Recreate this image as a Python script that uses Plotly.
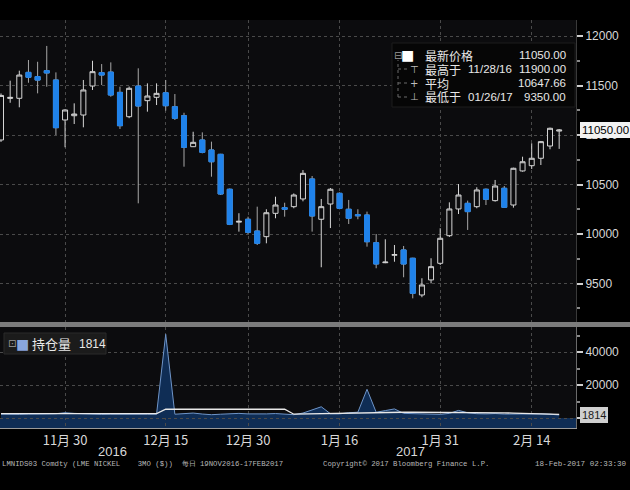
import plotly.graph_objects as go

# ---------------- data ----------------
dates = [
    "2016-11-21", "2016-11-22", "2016-11-23", "2016-11-24", "2016-11-25", "2016-11-28", "2016-11-29", "2016-11-30",
    "2016-12-01", "2016-12-02", "2016-12-05", "2016-12-06", "2016-12-07", "2016-12-08", "2016-12-09", "2016-12-12",
    "2016-12-13", "2016-12-14", "2016-12-15", "2016-12-16", "2016-12-19", "2016-12-20", "2016-12-21", "2016-12-22",
    "2016-12-23", "2016-12-28", "2016-12-29", "2016-12-30",
    "2017-01-03", "2017-01-04", "2017-01-05", "2017-01-06", "2017-01-09", "2017-01-10", "2017-01-11", "2017-01-12",
    "2017-01-13", "2017-01-16", "2017-01-17", "2017-01-18", "2017-01-19", "2017-01-20", "2017-01-23", "2017-01-24",
    "2017-01-25", "2017-01-26", "2017-01-27", "2017-01-30", "2017-01-31",
    "2017-02-01", "2017-02-02", "2017-02-03", "2017-02-06", "2017-02-07", "2017-02-08", "2017-02-09", "2017-02-10",
    "2017-02-13", "2017-02-14", "2017-02-15", "2017-02-16", "2017-02-17",
]
opens = [10950, 11370, 11371, 11633, 11590, 11650, 11556, 11152, 11195, 11202, 11495, 11630, 11636, 11431, 11185, 11495,
         11347, 11381, 11427, 11286, 11195, 10882, 10950, 10849, 10805, 10452, 10120, 10149,
         10030, 9973, 10209, 10266, 10276, 10354, 10556, 10149, 10303, 10411, 10250, 10195, 10192, 9912, 9710, 9785,
         9839, 9755, 9384, 9536, 9704,
         9983, 10253, 10310, 10276, 10452, 10337, 10462, 10293, 10637, 10690, 10765, 10889, 11040]
highs = [11420, 11549, 11650, 11758, 11740, 11900, 11633, 11260, 11320, 11556, 11750, 11717, 11734, 11488, 11490, 11674,
         11522, 11522, 11556, 11414, 11225, 11033, 11027, 10933, 10810, 10460, 10210, 10175,
         10276, 10250, 10377, 10316, 10410, 10646, 10586, 10354, 10465, 10420, 10344, 10250, 10226, 10000, 9947, 9889,
         9879, 9760, 9553, 9755, 10058,
         10320, 10505, 10337, 10472, 10460, 10546, 10485, 10670, 10781, 10916, 10940, 11075, 11060]
lows = [10930, 11326, 11280, 11528, 11421, 11488, 11000, 10876, 11111, 11078, 11455, 11505, 11387, 11061, 11170, 10310,
        11236, 11303, 11246, 11152, 10680, 10880, 10815, 10579, 10394, 10090, 10024, 10000,
        9889, 9906, 10159, 10175, 10260, 10330, 10024, 9664, 10060, 10250, 10101, 10149, 9872, 9654, 9705, 9720,
        9563, 9350, 9361, 9502, 9687,
        9970, 10202, 10041, 10260, 10293, 10327, 10265, 10266, 10630, 10657, 10697, 10856, 10860]
closes = [11400, 11380, 11606, 11583, 11555, 11627, 11074, 11253, 11212, 11455, 11640, 11606, 11404, 11094, 11472, 11293,
          11394, 11421, 11296, 11169, 10876, 10926, 10825, 10730, 10404, 10098, 10128, 10017,
          9906, 10215, 10293, 10250, 10394, 10613, 10182, 10276, 10452, 10259, 10159, 10185, 9922, 9697, 9716, 9792,
          9697, 9401, 9485, 9670, 9957,
          10253, 10394, 10226, 10445, 10351, 10485, 10270, 10664, 10730, 10765, 10933, 11068, 11050]

open_interest = [2300, 2100, 2200, 2400, 2300, 2500, 2600, 3200, 2800, 2500, 2300, 2200, 2300, 2400, 2300, 2200,
                 2300, 2300, 50700, 2300, 2800, 3000, 2400, 2000, 2300, 2600, 2800, 2500,
                 2300, 2500, 2700, 2400, 2000, 3000, 4800, 6800, 2600, 2500, 3200, 3500, 17400, 3500, 4500, 5500,
                 2800, 2600, 2300, 2000, 2200,
                 2800, 4600, 3200, 2600, 2500, 2700, 2400, 2500, 2600, 2800, 2500, 2300, 1814]
oi_line = [2700, 2700, 2700, 2700, 2700, 2700, 2700, 2700, 2700, 2700, 2700, 2700, 2700, 2700, 2700, 2700,
           2700, 2700, 5300, 5300, 5300, 5300, 5300, 5300, 5300, 5300, 5300, 5300,
           5300, 5300, 5300, 5300, 2300, 2400, 2500, 2700, 2800, 2900, 3100, 3200, 3500, 3500, 3500, 3500,
           3500, 3500, 3500, 3500, 3500,
           3500, 3500, 3500, 3500, 3300, 3200, 3100, 3000, 2900, 2800, 2500, 2300, 2200]

tick_dates = ["2016-11-30", "2016-12-15", "2016-12-30", "2017-01-16", "2017-01-31", "2017-02-14"]
tick_labels = ["11月 30", "12月 15", "12月 30", "1月 16", "1月 31", "2月 14"]
year_labels = ["2016", "2017"]
oi_ticks = [0, 20000, 40000]
oi_tick_text = ["", "20000", "40000"]

legend_labels = ["最新价格", "最高于", "平均", "最低于"]
legend_dates = ["", "11/28/16", "", "01/26/17"]
legend_values = ["11050.00", "11900.00", "10647.66", "9350.00"]
last_price = 11050
oi_last = 1814

# ---------------- geometry helpers (pixel -> paper) ----------------
W, H = 630, 490
ML, MR, MT, MB = 0, 54, 20, 62
PW = W - ML - MR
PH = H - MT - MB


def px(x):
    return (x - ML) / PW


def py(y):
    return (H - MB - y) / PH


CJK = "Noto Sans CJK SC, Noto Sans, sans-serif"
SANS = "Liberation Sans, Arial, sans-serif"
MONO = "Liberation Mono, DejaVu Sans Mono, monospace"
TXT = "#d8d8d8"
GRID = "#4a4a4a"
BLUE = "#1f82ea"

dec_idx = [i for i in range(len(dates)) if closes[i] < opens[i]]

fig = go.Figure()
fig.add_trace(go.Candlestick(
    x=dates, open=opens, high=highs, low=lows, close=closes,
    increasing=dict(line=dict(color="#d6d6d6", width=1), fillcolor="#0c0c0e"),
    decreasing=dict(line=dict(color="#a8a8a8", width=1), fillcolor=BLUE),
    whiskerwidth=0, xaxis="x", yaxis="y", hoverinfo="skip",
))
fig.add_trace(go.Candlestick(
    x=[dates[i] for i in dec_idx],
    open=[opens[i] for i in dec_idx],
    high=[opens[i] for i in dec_idx],
    low=[closes[i] for i in dec_idx],
    close=[closes[i] for i in dec_idx],
    increasing=dict(line=dict(color=BLUE, width=1), fillcolor=BLUE),
    decreasing=dict(line=dict(color=BLUE, width=1), fillcolor=BLUE),
    whiskerwidth=0, xaxis="x", yaxis="y", hoverinfo="skip",
))

fig.add_trace(go.Scatter(
    x=dates, y=open_interest, mode="lines", fill="tozeroy",
    line=dict(color="#6f95c8", width=1), fillcolor="#0f2d55",
    xaxis="x2", yaxis="y2", hoverinfo="skip",
))
fig.add_trace(go.Scatter(
    x=dates, y=oi_line, mode="lines",
    line=dict(color="#e8e8e8", width=1.3),
    xaxis="x2", yaxis="y2", hoverinfo="skip",
))

xr = [-0.11, 62.84]
main_dom = [py(322), 1.0]
low_dom = [0.0, py(327)]

common_x = dict(type="category", categoryorder="array", categoryarray=dates, range=xr,
                tickvals=tick_dates, showgrid=True, gridcolor=GRID, griddash="dot",
                zeroline=False, fixedrange=True)

fig.update_layout(
    width=W, height=H,
    margin=dict(l=ML, r=MR, t=MT, b=MB),
    paper_bgcolor="#000000", plot_bgcolor="#0c0c0e",
    showlegend=False,
    boxgap=0.22,
    xaxis=dict(**common_x, anchor="y", domain=[0, 1], showticklabels=False, ticks="",
               rangeslider=dict(visible=False)),
    xaxis2=dict(**common_x, anchor="y2", domain=[0, 1], ticktext=tick_labels, ticks="",
                tickfont=dict(family=CJK, size=13, color=TXT), showline=True, linecolor="#9a9a9a",
                linewidth=1),
    yaxis=dict(domain=main_dom, side="right", range=[9111, 12162], anchor="x",
               tickmode="linear", tick0=0, dtick=500, tickformat="d",
               showgrid=True, gridcolor=GRID, griddash="dot", zeroline=False,
               tickfont=dict(family=SANS, size=12, color=TXT),
               ticks="outside", ticklen=6, tickwidth=2, tickcolor="#cfcfcf",
               minor=dict(ticks="outside", ticklen=3, tickcolor="#8a8a8a", dtick=250, tick0=0, showgrid=False),
               showline=True, linecolor="#3a3a3a", fixedrange=True),
    yaxis2=dict(domain=low_dom, side="right", range=[-6060, 55150], anchor="x2",
                tickmode="array", tickvals=oi_ticks, ticktext=oi_tick_text,
                showgrid=True, gridcolor=GRID, griddash="dot", zeroline=False,
                tickfont=dict(family=SANS, size=12, color=TXT),
                ticks="outside", ticklen=6, tickwidth=2, tickcolor="#cfcfcf",
                minor=dict(ticks="outside", ticklen=3, tickcolor="#8a8a8a", dtick=10000, tick0=0, showgrid=False),
                showline=True, linecolor="#6a6a6a", fixedrange=True),
)

shapes = []
shapes.append(dict(type="rect", xref="x2 domain", yref="y2", x0=0, x1=1, y0=-6060, y1=0,
                   fillcolor="#0f2d55", line=dict(width=0), layer="below"))
shapes.append(dict(type="rect", xref="paper", yref="paper", x0=0, x1=W / PW, y0=py(327), y1=py(322),
                   fillcolor="#7c7c7c", line=dict(width=0)))
shapes.append(dict(type="rect", xref="paper", yref="paper", x0=px(392), x1=px(575), y0=py(107), y1=py(43),
                   fillcolor="#060606", line=dict(color="#1c1c1c", width=1)))
shapes.append(dict(type="line", xref="paper", yref="paper", x0=px(398), x1=px(398), y0=py(97), y1=py(60),
                   line=dict(color="#6a6a6a", width=1, dash="dot")))
for yy in (69, 83, 97):
    shapes.append(dict(type="line", xref="paper", yref="paper", x0=px(398), x1=px(408), y0=py(yy), y1=py(yy),
                       line=dict(color="#6a6a6a", width=1, dash="dot")))
shapes.append(dict(type="rect", xref="paper", yref="paper", x0=px(4), x1=px(106), y0=py(354), y1=py(333),
                   fillcolor="#1b1b1b", line=dict(color="#2a2a2a", width=1)))
fig.update_layout(shapes=shapes)

ann = []


def add_text(x, y, text, size=12, color=TXT, family=SANS, xanchor="left", **kw):
    ann.append(dict(x=px(x), y=py(y), xref="paper", yref="paper", text=text, showarrow=False,
                    xanchor=xanchor, yanchor="middle", font=dict(family=family, size=size, color=color),
                    borderpad=0, **kw))


rows_y = [55, 69, 83, 96.5]
add_text(398, 55, "⊟", size=10, color="#9a9a9a", family="DejaVu Sans", xanchor="center")
add_text(407, 55, "■", size=14, color="#ffffff", family="DejaVu Sans", xanchor="center")
add_text(414, 69, "⊤", size=10, color="#bdbdbd", family="DejaVu Sans", xanchor="center")
add_text(414, 83, "+", size=10, color="#bdbdbd", family="DejaVu Sans", xanchor="center")
add_text(414, 96.5, "⊥", size=10, color="#bdbdbd", family="DejaVu Sans", xanchor="center")
for lab, dt, val, yy in zip(legend_labels, legend_dates, legend_values, rows_y):
    add_text(424, yy, lab, size=12, color="#e8e8e8", family=CJK)
    if dt:
        add_text(467, yy, dt, size=11.5, color="#e8e8e8", family=SANS)
    add_text(567, yy, val, size=11.5, color="#e8e8e8", family=SANS, xanchor="right")

ann.append(dict(x=1, y=last_price, xref="paper", yref="y", text=f"{last_price:.2f}", showarrow=False,
                xanchor="left", yanchor="middle", xshift=4,
                font=dict(family=SANS, size=11.5, color="#000000"), bgcolor="#f2f2f2",
                bordercolor="#f2f2f2", borderpad=1))
ann.append(dict(x=1, y=oi_last, xref="paper", yref="y2", text=str(oi_last), showarrow=False,
                xanchor="left", yanchor="middle", xshift=4,
                font=dict(family=SANS, size=11, color="#1a1a1a"), bgcolor="#cfcfcf",
                bordercolor="#cfcfcf", borderpad=1))

add_text(12, 343.5, "⊡", size=10, color="#9a9a9a", family="DejaVu Sans", xanchor="center")
add_text(22, 343.5, "■", size=14, color="#8aa6dc", family="DejaVu Sans", xanchor="center")
add_text(31, 343.5, "持仓量", size=13, color="#e8e8e8", family=CJK)
add_text(78, 343.5, str(oi_last), size=12, color="#e8e8e8", family=SANS)

add_text(112, 451, year_labels[0], size=13, color=TXT, family=SANS, xanchor="center")
add_text(410, 451, year_labels[1], size=13, color=TXT, family=SANS, xanchor="center")

add_text(1, 464, "LMNIDS03 Comdty (LME NICKEL    3MO ($))  每日 19NOV2016-17FEB2017", size=7.3,
         color="#b8b8b8", family=MONO)
add_text(406, 464, "Copyright© 2017 Bloomberg Finance L.P.", size=7.3, color="#b8b8b8", family=MONO,
         xanchor="center")
add_text(628, 464, "18-Feb-2017 02:33:30", size=7.6, color="#b8b8b8", family=MONO, xanchor="right")

fig.update_layout(annotations=ann)

fig.write_html("out.html", config={"displayModeBar": False},
               post_script="document.body.style.margin='0';document.body.style.overflow='hidden';")
